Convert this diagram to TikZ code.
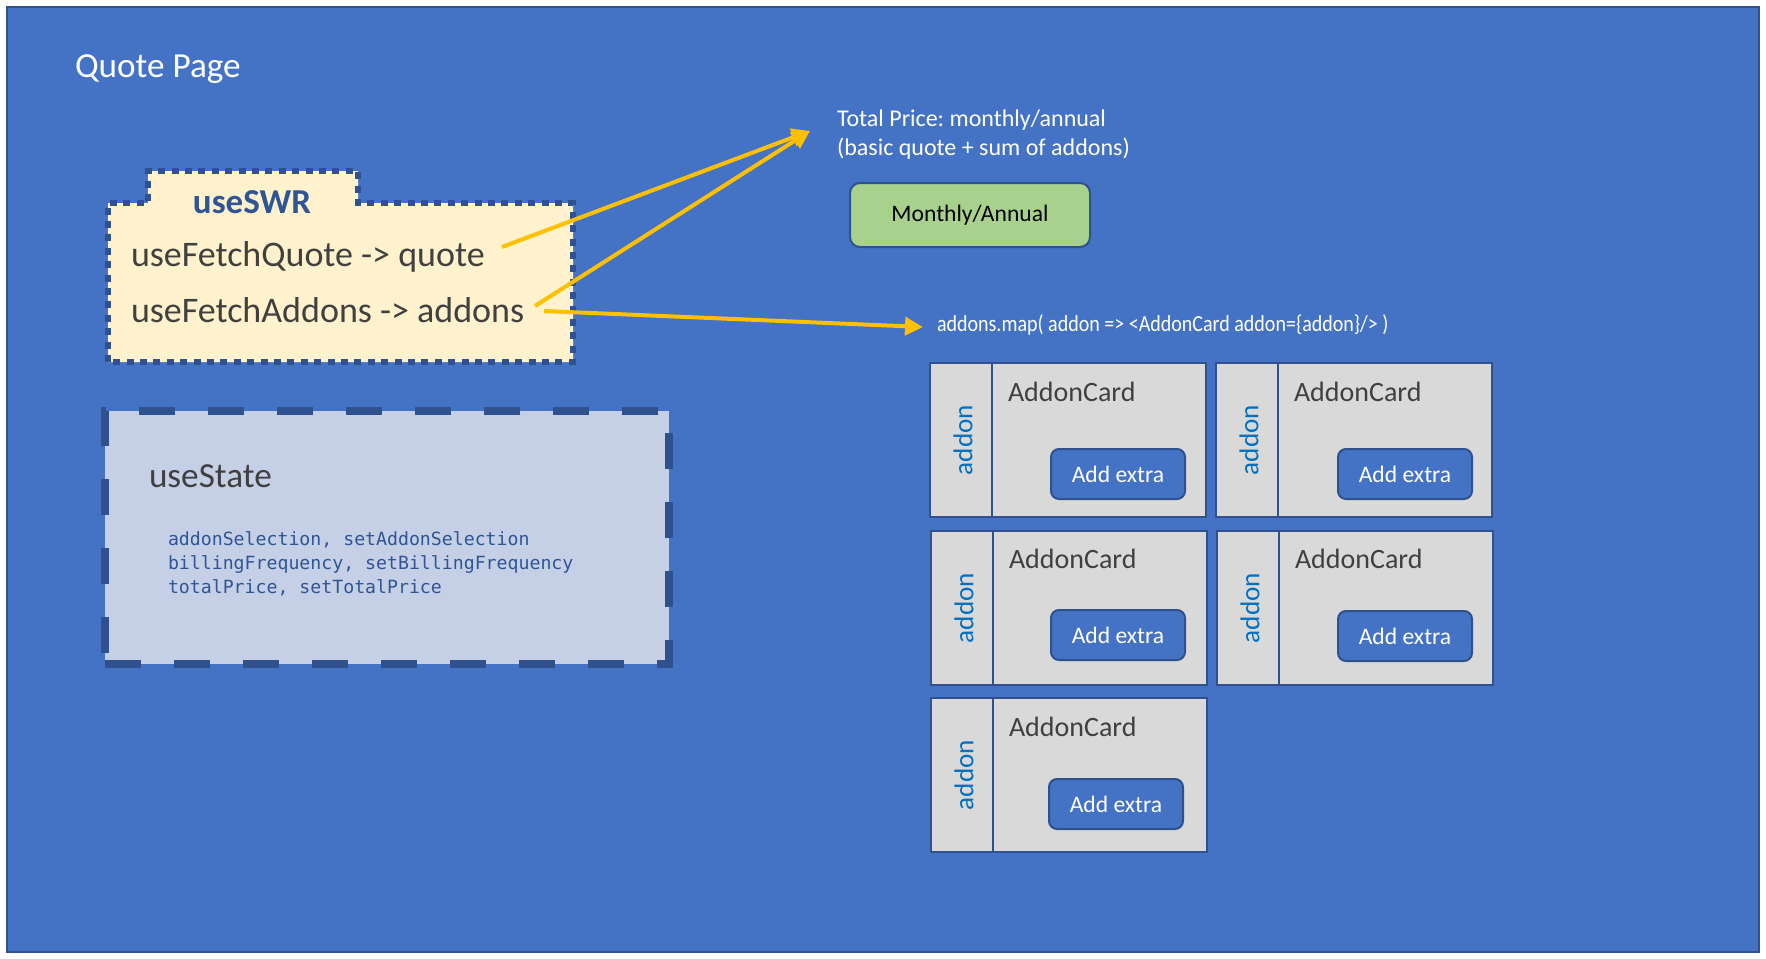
\documentclass[tikz,border=0pt]{standalone}
\usepackage{fontspec}
\usepackage{graphicx}
\setmainfont{Carlito}
\setmonofont{DejaVu Sans Mono}
\usetikzlibrary{arrows.meta,calc}
\frenchspacing
\definecolor{bgblue}{HTML}{4472C4}
\definecolor{edgeblue}{HTML}{2F528F}
\definecolor{swrfill}{HTML}{FFF2CC}
\definecolor{statefill}{HTML}{C5D0E6}
\definecolor{txtgray}{HTML}{404040}
\definecolor{codeblue}{HTML}{2F5597}
\definecolor{greenfill}{HTML}{A9D18E}
\definecolor{cardfill}{HTML}{D9D9D9}
\definecolor{addonblue}{HTML}{0070C0}
\definecolor{arrowyellow}{HTML}{FFC000}
\newcommand\mkcard[6]{%
  \node[cardbox] (#1) at (#2,#3) {};
  \draw[draw=edgeblue,line width=1pt] ($(#1.north west)+(62,0)$) -- ($(#1.south west)+(62,0)$);
  \node[addonlbl] (#1l) at ($(#1.north west)+(33,77)$) {addon};
  \node[cardtitle] (#1t) at ($(#1.north west)+(78,#6)$) {AddonCard};
  \node[btn] (#1b) at ($(#1.north west)+(#4,#5)$) {Add extra};
}
\begin{document}
\begin{tikzpicture}[x=0.5pt,y=-0.5pt,
  txt/.style={inner sep=0pt, outer sep=0pt, anchor=base west},
  arr/.style={draw=arrowyellow, line width=2pt, -{Triangle[length=9pt,width=9pt]}, arrowyellow},
  cardbox/.style={draw=edgeblue, fill=cardfill, line width=1pt, minimum width=138pt, minimum height=77pt, anchor=north west, inner sep=0pt, outer sep=0pt},
  btn/.style={draw=edgeblue, fill=bgblue, line width=1pt, rounded corners=4pt, minimum width=67pt, minimum height=25pt, anchor=north west, inner sep=0pt, outer sep=0pt, text=white, font=\fontsize{11.8pt}{14pt}\selectfont},
  addonlbl/.style={rotate=90, inner sep=0pt, text=addonblue, font=\fontsize{13.6pt}{16pt}\selectfont},
  cardtitle/.style={txt, text=txtgray, font=\fontsize{14pt}{16pt}\selectfont},
  bigtxt/.style={txt, font=\fontsize{18pt}{21pt}\selectfont},
  codetxt/.style={txt, text=codeblue, font=\fontsize{9.1pt}{12pt}\ttfamily},
  smalltxt/.style={txt, text=white, font=\fontsize{12pt}{14pt}\selectfont}
]
\useasboundingbox (0,0) rectangle (1766,958);
\fill[white] (0,0) rectangle (1766,958);
\node[draw=edgeblue, fill=bgblue, line width=1pt, minimum width=876pt, minimum height=472.5pt, anchor=north west, inner sep=0pt, outer sep=0pt] (page) at (7,7) {};
\node[txt, text=white, font=\fontsize{17.6pt}{20pt}\selectfont] (title) at (75,77) {Quote Page};

% useSWR box
\draw[draw=edgeblue, fill=swrfill, line width=3.4pt, dash pattern=on 3.5pt off 3.2pt]
  (108,362) -- (108,203) -- (148,203) -- (148,171) -- (358,171) -- (358,203) -- (573,203) -- (573,362) -- cycle;
\node[inner sep=0pt, anchor=base, text=codeblue, font=\bfseries\fontsize{17.5pt}{20pt}\selectfont] (swr) at (252,213) {useSWR};
\node[bigtxt, text=txtgray] (fq) at (131,266) {useFetchQuote -> quote};
\node[bigtxt, text=txtgray] (fa) at (131,322) {useFetchAddons -> addons};

% useState box
\node[draw=edgeblue, fill=statefill, line width=3.8pt, dash pattern=on 18pt off 16.5pt, minimum width=282pt, minimum height=126.5pt, inner sep=0pt, outer sep=0pt] (us) at (387,537.5) {};
\node[bigtxt, text=txtgray, font=\fontsize{17.6pt}{20pt}\selectfont] (ust) at (149,487) {useState};
\node[codetxt] (cl1) at (168,545) {addonSelection, setAddonSelection};
\node[codetxt] (cl2) at (168,569) {billingFrequency, setBillingFrequency};
\node[codetxt] (cl3) at (168,593) {totalPrice, setTotalPrice};

% total price
\node[smalltxt] (tp1) at (837,126) {Total Price: monthly/annual};
\node[smalltxt] (tp2) at (837,155) {(basic quote + sum of addons)};
\node[draw=edgeblue, fill=greenfill, line width=1pt, rounded corners=5pt, minimum width=120pt, minimum height=32pt, inner sep=0pt, text=black, font=\fontsize{11.8pt}{14pt}\selectfont] (ma) at (970,215) {Monthly/Annual};

% map text
\node[txt, text=white, font=\fontsize{11.5pt}{13pt}\selectfont] (map) at (937,331) {\scalebox{0.87}[1]{addons.map( addon => <AddonCard addon=\{addon\}/> )}};

% cards
\mkcard{c1}{930}{363}{121}{86}{38}
\mkcard{c2}{1216}{363}{122}{86}{38}
\mkcard{c3}{931}{531}{120}{79}{37}
\mkcard{c4}{1217}{531}{121}{80}{37}
\mkcard{c5}{931}{698}{118}{81}{38}

% arrows
\coordinate (q1) at (502,247);
\coordinate (q2) at (535,306);
\coordinate (q3) at (544,311);
\coordinate (tpin) at (810,131);
\coordinate (mapin) at (923,327);
\draw[arr] (q1) -- (tpin);
\draw[arr] (q2) -- (tpin);
\draw[arr] (q3) -- (mapin);
\end{tikzpicture}
\end{document}
